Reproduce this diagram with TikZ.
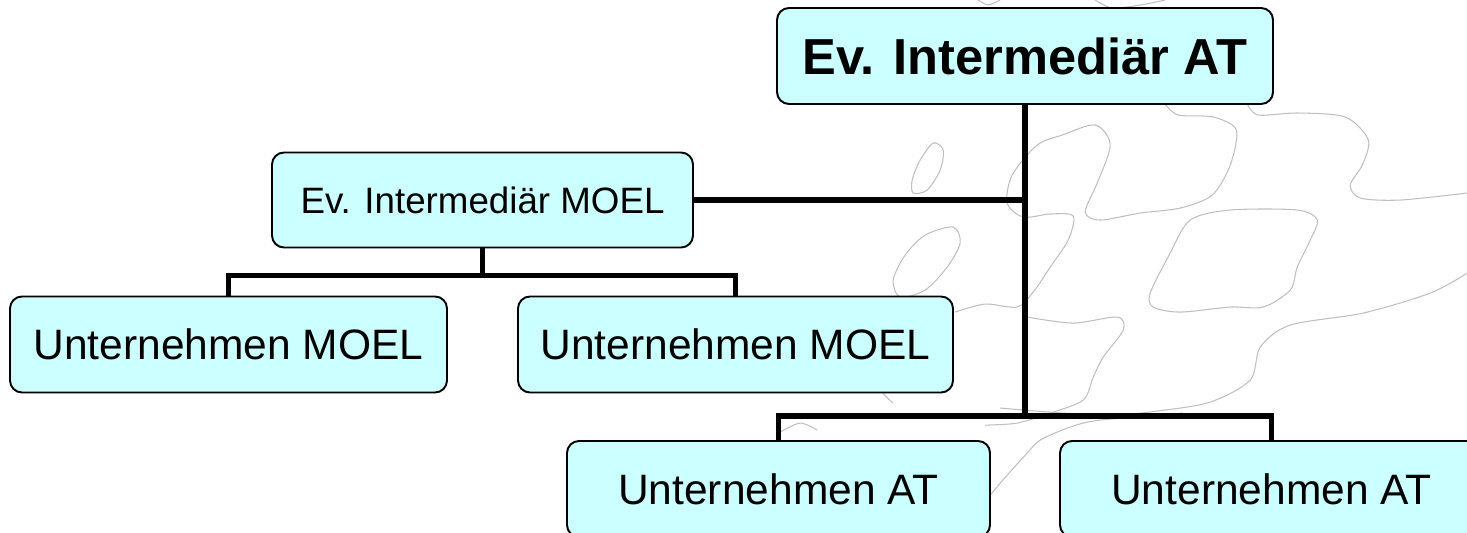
\documentclass[tikz,border=0pt]{standalone}
\usepackage{fontspec}
\setmainfont{Liberation Sans}
\usetikzlibrary{shapes.geometric}
\definecolor{boxcyan}{RGB}{204,255,255}
\tikzstyle{orgbox} = [rectangle, rounded corners=0.24cm, minimum height=1.92cm, inner sep=0pt, text centered, draw=black, line width=1.1pt, fill=boxcyan, font=\fontsize{24.2}{29}\selectfont]
\tikzstyle{line} = [line width=2.9pt, line join=miter]
\tikzstyle{blob} = [draw=black!25, line width=0.6pt]

\begin{document}
\begin{tikzpicture}
\useasboundingbox (0,0) rectangle (29.34,10.66);
% background doodles
\begin{scope}[shift={(0cm,10.66cm)}, x=0.02cm, y=-0.02cm]
\draw [blob] plot [smooth] coordinates {(978,0) (988,5) (1000,0)};
\draw [blob] plot [smooth] coordinates {(1095,0) (1112,8) (1140,5) (1165,0)};
\draw [blob] plot [smooth] coordinates {(1165,104) (1178,115) (1213,117) (1236,130) (1230,165) (1212,195) (1180,208) (1140,213) (1100,220) (1085,212) (1097,183) (1110,145) (1095,125) (1062,135) (1037,145) (1012,175) (1007,203) (1023,217) (1050,214) (1073,216) (1068,240) (1050,267) (1033,292) (1017,307) (985,304) (955,312)};
\draw [blob] plot [smooth] coordinates {(1247,104) (1258,115) (1297,113) (1345,117) (1368,140) (1362,165) (1350,185) (1360,198) (1400,200) (1467,193)};
\draw [blob] plot [smooth cycle] coordinates {(1150,293) (1170,253) (1190,220) (1230,210) (1297,210) (1317,220) (1310,240) (1297,267) (1290,290) (1263,307) (1230,307) (1180,312) (1153,307)};
\draw [blob] plot [smooth] coordinates {(1027,317) (1073,323) (1117,317) (1123,330) (1103,357) (1093,377) (1083,400) (1050,413) (1017,423) (985,425)};
\draw [blob] plot [smooth] coordinates {(1467,273) (1430,293) (1363,313) (1290,325) (1260,347) (1250,380) (1210,402) (1157,411) (1113,415) (1063,413) (1000,408)};
\draw [blob] plot [smooth] coordinates {(1183,413) (1100,420) (1070,427) (1040,440) (1027,453) (1007,475) (990,495)};
\draw [blob] plot [smooth cycle] coordinates {(933,143) (943,150) (940,170) (927,190) (913,193) (912,180) (920,160)};
\draw [blob] plot [smooth cycle] coordinates {(953,227) (960,243) (947,267) (925,290) (900,297) (893,280) (905,255) (925,235)};
\draw [blob] plot [smooth] coordinates {(895,297) (885,325) (880,360) (880,388) (893,403)};
\draw [blob] plot [smooth] coordinates {(780,432) (800,423) (817,430)};
\end{scope}
% boxes
\node (top) [orgbox, minimum width=9.92cm, font=\bfseries\fontsize{28.8}{34}\selectfont] at (20.5,9.54) {Ev. Intermediär AT};
\node (mid) [orgbox, minimum width=8.42cm, minimum height=1.9cm, font=\fontsize{20.9}{25}\selectfont, below of=top, node distance=2.88cm, xshift=-10.85cm] {Ev. Intermediär MOEL};
\node (um1) [orgbox, minimum width=8.74cm, below of=mid, node distance=2.89cm, xshift=-5.08cm] {Unternehmen MOEL};
\node (um2) [orgbox, minimum width=8.7cm, below of=mid, node distance=2.89cm, xshift=5.06cm] {Unternehmen MOEL};
\node (ua1) [orgbox, minimum width=8.46cm, below of=top, node distance=8.66cm, xshift=-4.93cm] {Unternehmen AT};
\node (ua2) [orgbox, minimum width=8.46cm, below of=top, node distance=8.66cm, xshift=4.93cm] {Unternehmen AT};
% connectors
\draw [line] (top.south) -- ++(0,-6.22) coordinate (atbar) -| (ua1.north);
\draw [line] (atbar) -| (ua2.north);
\draw [line] (mid.east) -- (mid.east -| top.south);
\draw [line] (mid.south) -- ++(0,-0.54) coordinate (moelbar) -| (um1.north);
\draw [line] (moelbar) -| (um2.north);
\end{tikzpicture}
\end{document}
